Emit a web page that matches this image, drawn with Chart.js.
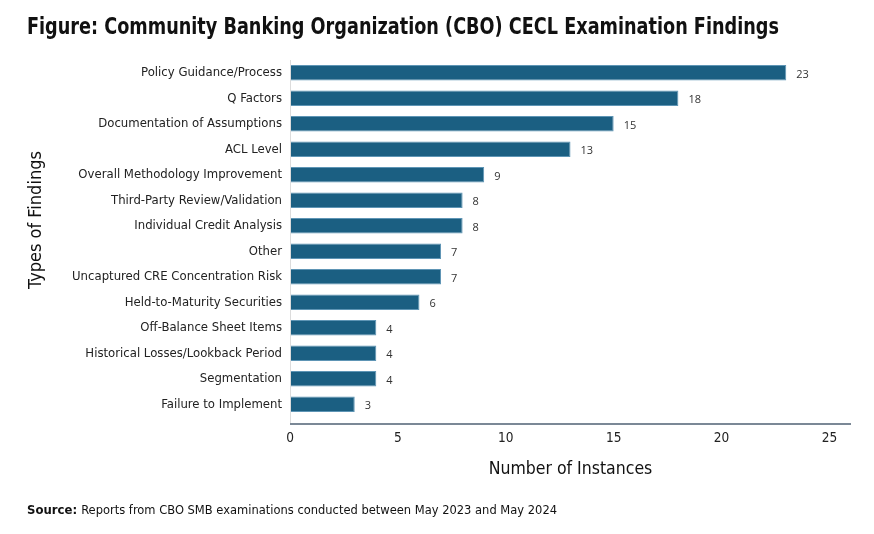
<!DOCTYPE html>
<html>
<head>
<meta charset="utf-8">
<script src="https://cdn.jsdelivr.net/npm/chart.js@4.4.0/dist/chart.umd.min.js"></script>
<style>
  html, body { margin: 0; padding: 0; background: #fff; }
  #wrap { width: 874px; height: 534px; }
</style>
</head>
<body>
<div id="wrap"><canvas id="myChart" width="874" height="534"></canvas></div>
<script>
const categories = [
    'Policy Guidance/Process',
    'Q Factors',
    'Documentation of Assumptions',
    'ACL Level',
    'Overall Methodology Improvement',
    'Third-Party Review/Validation',
    'Individual Credit Analysis',
    'Other',
    'Uncaptured CRE Concentration Risk',
    'Held-to-Maturity Securities',
    'Off-Balance Sheet Items',
    'Historical Losses/Lookback Period',
    'Segmentation',
    'Failure to Implement'
];
const instances = [23, 18, 15, 13, 9, 8, 8, 7, 7, 6, 4, 4, 4, 3];
const xTicks = [0, 5, 10, 15, 20, 25];

const narrow = "'DejaVu Sans Condensed', 'DejaVu Sans', sans-serif";

// value labels at the end of each bar
const valueLabels = {
    id: 'valueLabels',
    afterDatasetsDraw(chart) {
        const ctx = chart.ctx;
        const meta = chart.getDatasetMeta(0);
        ctx.save();
        ctx.font = "11px 'Open Sans', sans-serif";
        ctx.fillStyle = '#333';
        ctx.textAlign = 'left';
        ctx.textBaseline = 'middle';
        meta.data.forEach(function(bar, i) {
            ctx.fillText(instances[i], bar.x + 10, bar.y + 2);
        });
        ctx.restore();
    }
};

// title, axis lines (x line sits a bit below the last bar), y title and source note
const axisAndSource = {
    id: 'axisAndSource',
    afterDraw(chart) {
        const ctx = chart.ctx;
        const a = chart.chartArea;
        const axisY = a.bottom + 7;
        ctx.save();

        // title, squeezed to the width of the condensed original
        ctx.fillStyle = '#111';
        ctx.font = 'bold 22.5px ' + narrow;
        ctx.textAlign = 'left';
        ctx.textBaseline = 'alphabetic';
        ctx.fillText('Figure: Community Banking Organization (CBO) CECL Examination Findings', 27, 34, 752);

        ctx.strokeStyle = '#dcdcdc';
        ctx.lineWidth = 1;
        ctx.beginPath();
        ctx.moveTo(a.left + 0.5, a.top);
        ctx.lineTo(a.left + 0.5, axisY);
        ctx.stroke();

        ctx.strokeStyle = '#7b8896';
        ctx.lineWidth = 2;
        ctx.beginPath();
        ctx.moveTo(a.left, axisY);
        ctx.lineTo(a.right, axisY);
        ctx.stroke();

        // y axis title
        ctx.save();
        ctx.translate(36, 220);
        ctx.rotate(-Math.PI / 2);
        ctx.fillStyle = '#111';
        ctx.font = '18px ' + narrow;
        ctx.textAlign = 'center';
        ctx.textBaseline = 'middle';
        ctx.fillText('Types of Findings', 0, 0);
        ctx.restore();

        ctx.fillStyle = '#111';
        ctx.textBaseline = 'alphabetic';
        ctx.textAlign = 'left';
        ctx.font = 'bold 13px ' + narrow;
        ctx.fillText('Source:', 27, 514);
        const w = ctx.measureText('Source: ').width;
        ctx.font = '13px ' + narrow;
        ctx.fillText('Reports from CBO SMB examinations conducted between May 2023 and May 2024', 27 + w, 514, 557 - 27 - w);
        ctx.restore();
    }
};

const ctx = document.getElementById('myChart').getContext('2d');

const barChart = new Chart(ctx, {
    type: 'bar',
    data: {
        labels: categories,
        datasets: [{
            data: instances,
            backgroundColor: '#1b5f82',
            borderColor: '#5e95b5',
            borderWidth: 1,
            barPercentage: 0.6,
            categoryPercentage: 1
        }]
    },
    options: {
        indexAxis: 'y',
        responsive: false,
        animation: false,
        layout: {
            padding: { left: 27, right: 23, top: 60, bottom: 47 }
        },
        plugins: {
            legend: { display: false },
            tooltip: { enabled: false },
            title: { display: false }
        },
        scales: {
            x: {
                type: 'linear',
                min: 0,
                max: 26,
                afterBuildTicks: function(scale) {
                    scale.ticks = xTicks.map(function(v) { return { value: v }; });
                },
                afterFit: function(scale) { scale.height = 70; },
                grid: { display: false, drawTicks: false },
                border: { display: false },
                ticks: {
                    padding: 13,
                    color: '#222',
                    font: { family: narrow, size: 13.5 }
                },
                title: {
                    display: true,
                    text: 'Number of Instances',
                    color: '#111',
                    font: { family: narrow, size: 17.5 },
                    padding: { top: 0, bottom: 7 }
                }
            },
            y: {
                afterFit: function(scale) { scale.width = 263; },
                grid: { display: false, drawTicks: false },
                border: { display: false },
                ticks: {
                    padding: 8,
                    color: '#222',
                    autoSkip: false,
                    font: { family: narrow, size: 13 }
                }
            }
        }
    },
    plugins: [valueLabels, axisAndSource]
});
</script>
</body>
</html>
